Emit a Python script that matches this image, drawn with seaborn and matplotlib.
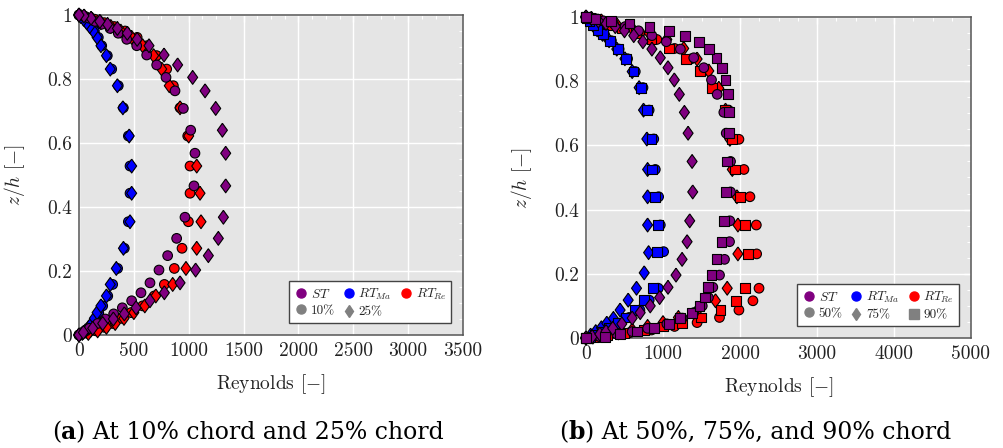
import numpy as np
import pandas as pd
import matplotlib
matplotlib.use("Agg")
import matplotlib.pyplot as plt
import seaborn as sns
from matplotlib.lines import Line2D
from matplotlib.ticker import MultipleLocator, FuncFormatter

# ---------------- panel (a): 10 % and 25 % chord ----------------
z_a_rt = [0, 0.005, 0.013, 0.024, 0.036, 0.052, 0.07, 0.091, 0.122, 0.158, 0.208, 0.271, 0.354, 0.443,
          0.528, 0.622, 0.71, 0.779, 0.831, 0.873, 0.904, 0.93, 0.95, 0.964, 0.976, 0.987, 0.995, 1.0]
re_a_ma_10 = [0, 34, 64, 94, 125, 155, 180, 216, 262, 307, 352, 413, 450, 465,
              465, 450, 404, 358, 298, 258, 207, 176, 140, 105, 75, 45, 20, 0]
re_a_ma_25 = [0, 30, 58, 88, 115, 140, 165, 200, 250, 285, 340, 405, 465, 480,
              480, 458, 400, 350, 285, 250, 200, 165, 130, 98, 70, 42, 18, 0]
re_a_re_10 = [0, 79, 155, 231, 307, 383, 474, 580, 686, 778, 869, 939, 997, 1012,
              1012, 991, 921, 860, 799, 708, 620, 530, 420, 320, 230, 140, 60, 0]
re_a_re_25 = [0, 85, 170, 250, 330, 410, 500, 600, 700, 854, 975, 1073, 1112, 1103,
              1073, 1000, 921, 823, 754, 680, 580, 480, 380, 290, 200, 120, 50, 0]

z_a_st = [0, 0.008, 0.021, 0.036, 0.05, 0.066, 0.085, 0.107, 0.132, 0.163, 0.203, 0.248, 0.302, 0.368, 0.466,
          0.568, 0.64, 0.708, 0.763, 0.805, 0.844, 0.875, 0.904, 0.924, 0.943, 0.958, 0.971, 0.98, 0.99, 0.997, 1.0]
re_a_st_10 = [0, 30, 94, 170, 240, 316, 395, 480, 565, 647, 729, 808, 890, 966, 1048,
              1057, 1018, 951, 875, 793, 708, 617, 526, 435, 358, 283, 207, 146, 91, 40, 0]
re_a_st_25 = [0, 40, 125, 216, 313, 413, 520, 647, 778, 921, 1063, 1179, 1270, 1316, 1337,
              1337, 1307, 1246, 1149, 1036, 899, 775, 638, 530, 440, 350, 260, 190, 110, 45, 0]

# ---------------- panel (b): 50 %, 75 % and 90 % chord ----------------
z_b_ma = [0, 0.003, 0.009, 0.02, 0.032, 0.046, 0.064, 0.087, 0.118, 0.155, 0.269, 0.352, 0.44,
          0.525, 0.62, 0.71, 0.78, 0.83, 0.87, 0.9, 0.926, 0.946, 0.96, 0.975, 0.988, 0.996, 1.0]
re_b_ma_50 = [0, 60, 147, 235, 322, 430, 560, 700, 821, 939, 1008, 965, 943,
              900, 880, 820, 740, 640, 540, 430, 330, 240, 170, 105, 50, 15, 0]
re_b_ma_90 = [0, 50, 120, 210, 300, 408, 517, 635, 756, 865, 921, 930, 900,
              860, 850, 790, 717, 617, 517, 413, 313, 226, 150, 95, 45, 12, 0]
z_b_ma_75 = [0, 0.009, 0.02, 0.032, 0.046, 0.061, 0.087, 0.118, 0.155, 0.203, 0.266, 0.352, 0.44,
             0.525, 0.62, 0.71, 0.78, 0.83, 0.87, 0.9, 0.926, 0.946, 0.96, 0.975, 0.988, 0.996, 1.0]
re_b_ma_75 = [0, 60, 126, 200, 270, 356, 443, 548, 656, 756, 813, 800, 800,
              800, 790, 747, 690, 600, 505, 400, 300, 215, 145, 90, 40, 10, 0]

z_b_re = [0, 0.003, 0.008, 0.016, 0.025, 0.036, 0.048, 0.064, 0.087, 0.116, 0.155, 0.262, 0.352, 0.44,
          0.525, 0.619, 0.71, 0.778, 0.832, 0.869, 0.902, 0.93, 0.95, 0.964, 0.976, 0.988, 0.996, 1.0]
re_b_re_50 = [0, 100, 300, 560, 850, 1150, 1443, 1734, 1986, 2168, 2247, 2216, 2212, 2129,
              2051, 1986, 1850, 1700, 1530, 1360, 1150, 920, 700, 500, 330, 160, 50, 0]
re_b_re_75 = [0, 90, 250, 420, 600, 800, 1000, 1200, 1450, 1682, 1834, 1973, 1973, 1960,
              1900, 1869, 1812, 1725, 1595, 1443, 1269, 1050, 820, 600, 400, 200, 70, 0]
re_b_re_90 = [0, 100, 280, 500, 750, 1000, 1250, 1495, 1747, 1952, 2060, 2103, 2064, 1999,
              1934, 1899, 1800, 1639, 1477, 1304, 1073, 850, 650, 470, 300, 150, 50, 0]

z_b_st = [0, 0.004, 0.012, 0.02, 0.03, 0.044, 0.062, 0.079, 0.1, 0.126, 0.158, 0.196, 0.245, 0.3, 0.365, 0.455,
          0.55, 0.638, 0.703, 0.759, 0.804, 0.842, 0.873, 0.9, 0.923, 0.942, 0.957, 0.97, 0.98, 0.988, 0.995, 1.0]
re_b_st_50 = [0, 180, 400, 600, 800, 1050, 1250, 1400, 1510, 1590, 1647, 1734, 1799, 1864, 1868, 1877,
              1877, 1821, 1790, 1704, 1630, 1530, 1399, 1226, 1043, 856, 682, 508, 356, 226, 120, 0]
re_b_st_75 = [0, 80, 180, 260, 348, 465, 600, 704, 834, 956, 1065, 1169, 1248, 1313, 1347, 1386,
              1378, 1326, 1278, 1212, 1147, 1065, 965, 856, 739, 620, 500, 380, 260, 160, 70, 0]
re_b_st_90 = [0, 248, 443, 661, 878, 1073, 1226, 1378, 1473, 1543, 1586, 1630, 1695, 1760, 1790, 1821,
              1834, 1856, 1856, 1847, 1812, 1769, 1695, 1595, 1464, 1291, 1073, 825, 565, 326, 117, 0]

models = ["ST", "RT_Ma", "RT_Re"]
model_labels = [r"$ST$", r"$RT_{Ma}$", r"$RT_{Re}$"]
chords_a = ["10%", "25%"]
chords_b = ["50%", "75%", "90%"]

# ---------------- style ----------------
sns.set_style("white")
plt.rcParams["font.family"] = ["cmr10", "DejaVu Serif"]
plt.rcParams["mathtext.fontset"] = "cm"
plt.rcParams["axes.formatter.use_mathtext"] = True
plt.rcParams["axes.unicode_minus"] = False

palette = {"ST": "#800080", "RT_Ma": "#0000ff", "RT_Re": "#ff0000"}
diamond = np.array([[0.0, 1.0], [0.72, 0.0], [0.0, -1.0], [-0.72, 0.0], [0.0, 1.0]])
marker_of = {"10%": "o", "50%": "o", "25%": diamond, "75%": diamond, "90%": "s"}
legend_marker = {"10%": "o", "50%": "o", "25%": "d", "75%": "d", "90%": "s"}
size_of = {"10%": 48, "50%": 48, "25%": 100, "75%": 100, "90%": 50}


def frame(sets):
    parts = []
    for model, chord, re_vals, z_vals in sets:
        parts.append(pd.DataFrame({"Re": re_vals, "z": z_vals, "model": model, "chord": chord}))
    return pd.concat(parts, ignore_index=True)


# drawing order: RT_Re at the back, ST on top
df_a = frame([
    ("RT_Re", "10%", re_a_re_10, z_a_rt), ("RT_Re", "25%", re_a_re_25, z_a_rt),
    ("RT_Ma", "10%", re_a_ma_10, z_a_rt), ("RT_Ma", "25%", re_a_ma_25, z_a_rt),
    ("ST", "10%", re_a_st_10, z_a_st), ("ST", "25%", re_a_st_25, z_a_st),
])
df_b = frame([
    ("RT_Re", "50%", re_b_re_50, z_b_re), ("RT_Re", "75%", re_b_re_75, z_b_re), ("RT_Re", "90%", re_b_re_90, z_b_re),
    ("RT_Ma", "50%", re_b_ma_50, z_b_ma), ("RT_Ma", "75%", re_b_ma_75, z_b_ma_75), ("RT_Ma", "90%", re_b_ma_90, z_b_ma),
    ("ST", "50%", re_b_st_50, z_b_st), ("ST", "75%", re_b_st_75, z_b_st), ("ST", "90%", re_b_st_90, z_b_st),
])

W, H = 1004, 448
fig = plt.figure(figsize=(W / 100, H / 100), dpi=100)
ax_a = fig.add_axes([79 / W, (H - 335) / H, 384 / W, 320 / H])
ax_b = fig.add_axes([586 / W, (H - 338) / H, 385 / W, 321 / H])


def style_axes(ax, xmax, xmajor):
    ax.set_facecolor("#e5e5e5")
    ax.set_xlim(0, xmax)
    ax.set_ylim(0, 1)
    ax.xaxis.set_major_locator(MultipleLocator(xmajor))
    ax.xaxis.set_minor_locator(MultipleLocator(xmajor / 4))
    ax.yaxis.set_major_locator(MultipleLocator(0.2))
    ax.yaxis.set_minor_locator(MultipleLocator(0.05))
    ax.yaxis.set_major_formatter(FuncFormatter(lambda v, p: f"{v:g}"))
    ax.xaxis.set_major_formatter(FuncFormatter(lambda v, p: f"{v:g}"))
    ax.grid(True, which="major", color="white", lw=1.0)
    ax.set_axisbelow(True)
    ax.tick_params(which="both", direction="in", top=True, right=True, color="white",
                   labelsize=14, labelcolor="#222222")
    ax.tick_params(which="major", length=5, width=1, pad=5)
    ax.tick_params(which="minor", length=3, width=0.8)
    for s in ax.spines.values():
        s.set_color("#555555")
        s.set_linewidth(1.1)
    ax.set_xlabel(r"Reynolds $[-]$", fontsize=14, color="#222222")
    ax.set_ylabel(r"$z/h$ $[-]$", fontsize=14, color="#222222")
    ax.xaxis.set_label_coords(0.5, -0.115)
    ax.yaxis.set_label_coords(-0.135, 0.5)


def draw(ax, df, chords):
    sns.scatterplot(data=df, x="Re", y="z", hue="model", style="chord", size="chord",
                    hue_order=models, style_order=chords, size_order=chords,
                    palette=palette, markers={c: marker_of[c] for c in chords},
                    sizes={c: size_of[c] for c in chords},
                    edgecolor="black", linewidth=0.8, legend=False, ax=ax,
                    clip_on=False, zorder=3)


def add_legend(ax, chords):
    handles, labels = [], []
    extra = chords + [""] * (3 - len(chords))
    for m, lab, c in zip(models, model_labels, extra):
        handles.append(Line2D([], [], ls="", marker="o", ms=6.5, mfc=palette[m], mec=palette[m]))
        labels.append(lab)
        if c:
            handles.append(Line2D([], [], ls="", marker=legend_marker[c], ms=6.5,
                                  mfc="#808080", mec="#808080"))
            labels.append(c)
        else:
            handles.append(Line2D([], [], ls="", marker=None))
            labels.append("")
    leg = ax.legend(handles, labels, ncol=3, loc="lower right", bbox_to_anchor=(0.97, 0.036),
                    fontsize=9.5, frameon=True, fancybox=False, framealpha=1, edgecolor="#444444",
                    borderpad=0.4, handletextpad=0.25, columnspacing=0.55, handlelength=1.0,
                    labelspacing=0.3, borderaxespad=0)
    leg.get_frame().set_linewidth(1.0)
    leg.set_zorder(5)


for ax, df, chords, xmax, step in [(ax_a, df_a, chords_a, 3500, 500), (ax_b, df_b, chords_b, 5000, 1000)]:
    style_axes(ax, xmax, step)
    draw(ax, df, chords)
    add_legend(ax, chords)
    ax.set_xlim(0, xmax)
    ax.set_ylim(0, 1)


# sub-figure captions with a bold letter
def caption(cx_px, base_px, letter, rest, size=17):
    r = fig.canvas.get_renderer()
    pieces = [("(", "normal"), (letter, "bold"), (rest, "normal")]
    texts = [fig.text(0, (H - base_px) / H, s, fontsize=size, fontweight=w, color="black",
                      family="DejaVu Serif", va="baseline", ha="left") for s, w in pieces]
    widths = [t.get_window_extent(r).width for t in texts]
    x = cx_px - sum(widths) / 2
    for t, w in zip(texts, widths):
        t.set_x(x / W)
        x += w


caption(248, 439, "a", ") At 10% chord and 25% chord")
caption(755, 439, "b", ") At 50%, 75%, and 90% chord")

fig.savefig("out.png", dpi=100)
